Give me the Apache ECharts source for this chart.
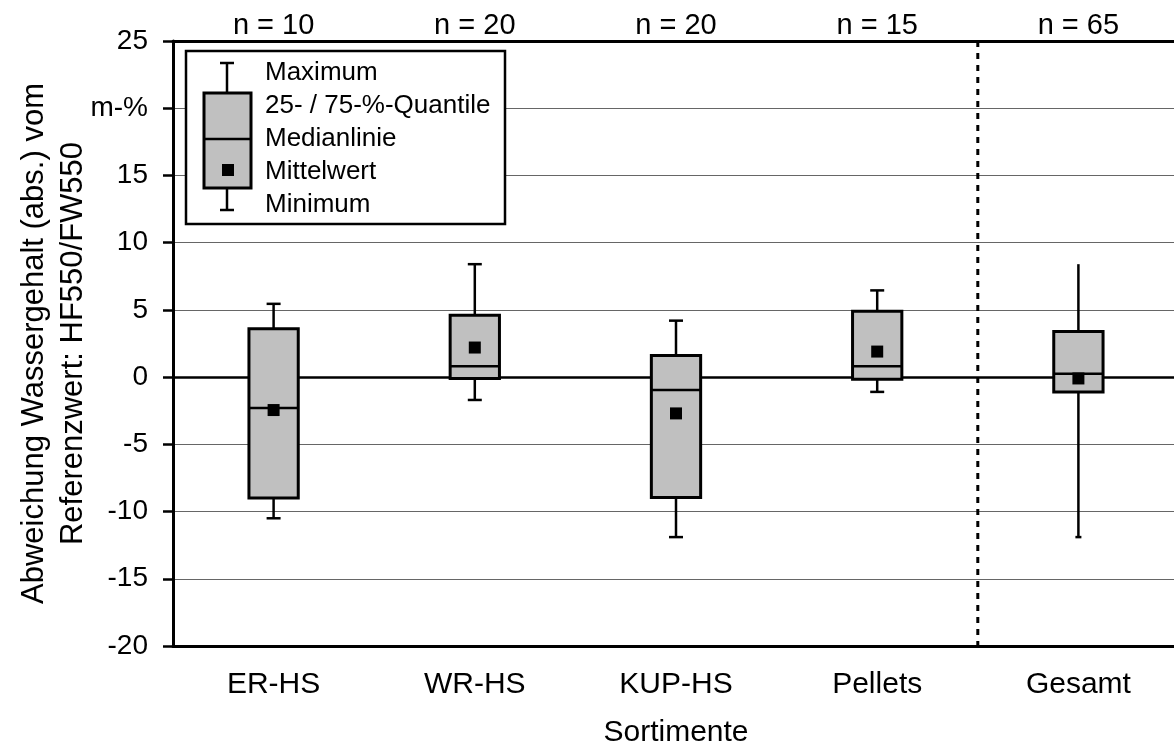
<!DOCTYPE html>
<html>
<head>
<meta charset="utf-8">
<script src="https://cdn.jsdelivr.net/npm/echarts@6/dist/echarts.min.js"></script>
<style>html,body{margin:0;padding:0;background:#fff}#c{width:1174px;height:745px}</style>
</head>
<body>
<div id="c"></div>
<script>
const categories = ['ER-HS', 'WR-HS', 'KUP-HS', 'Pellets', 'Gesamt'];
const nLabels = ['n = 10', 'n = 20', 'n = 20', 'n = 15', 'n = 65'];
const minimum = [-10.5, -1.7, -11.9, -1.1, -11.9];
const q1 = [-9.0, -0.1, -8.95, -0.15, -1.1];
const median = [-2.3, 0.8, -0.95, 0.8, 0.25];
const q3 = [3.6, 4.6, 1.6, 4.9, 3.4];
const maximum = [5.45, 8.4, 4.2, 6.45, 8.4];
const mean = [-2.45, 2.2, -2.7, 1.9, -0.1];
const separatorAfter = 3; // dashed line between 'Pellets' and 'Gesamt'

const FONT = 'Liberation Sans, Arial, sans-serif';
const chart = echarts.init(document.getElementById('c'));

const boxData = categories.map((c, i) => [i, minimum[i], q1[i], median[i], q3[i], maximum[i], mean[i]]);

function renderBox(params, api) {
  const i = api.value(0);
  const band = api.size([1, 0])[0];
  const x = api.coord([i, 0])[0];
  const bw = band * 0.245;
  const yMin = api.coord([i, api.value(1)])[1];
  const yQ1 = api.coord([i, api.value(2)])[1];
  const yMed = api.coord([i, api.value(3)])[1];
  const yQ3 = api.coord([i, api.value(4)])[1];
  const yMax = api.coord([i, api.value(5)])[1];
  const yMean = api.coord([i, api.value(6)])[1];
  const capTop = i === 4 ? 0 : 7;
  const capBot = i === 4 ? 3 : 7;
  const ls = { stroke: '#000', lineWidth: 2.5 };
  const children = [
    { type: 'line', shape: { x1: x, y1: yQ3, x2: x, y2: yMax }, style: ls },
    { type: 'line', shape: { x1: x, y1: yQ1, x2: x, y2: yMin }, style: ls },
    { type: 'rect', shape: { x: x - bw / 2, y: yQ3, width: bw, height: yQ1 - yQ3 }, style: { fill: '#c0c0c0', stroke: '#000', lineWidth: 3 } },
    { type: 'line', shape: { x1: x - bw / 2, y1: yMed, x2: x + bw / 2, y2: yMed }, style: { stroke: '#000', lineWidth: 2.5 } },
    { type: 'rect', shape: { x: x - 6, y: yMean - 6, width: 12, height: 12 }, style: { fill: '#000' } }
  ];
  if (capTop) children.push({ type: 'line', shape: { x1: x - capTop, y1: yMax, x2: x + capTop, y2: yMax }, style: ls });
  if (capBot) children.push({ type: 'line', shape: { x1: x - capBot, y1: yMin, x2: x + capBot, y2: yMin }, style: ls });
  return { type: 'group', children };
}

function renderSep(params, api) {
  const i = api.value(0);
  const band = api.size([1, 0])[0];
  const x = api.coord([i, 0])[0] + band / 2;
  const cs = params.coordSys;
  return { type: 'line', shape: { x1: x, y1: cs.y, x2: x, y2: cs.y + cs.height }, style: { stroke: '#000', lineWidth: 3, lineDash: [6, 6] } };
}

// legend glyph
const lgx = 227;
const legendGraphic = [
  { type: 'rect', shape: { x: 186, y: 51, width: 319, height: 173 }, style: { fill: '#fff', stroke: '#000', lineWidth: 2.5 }, z: 100 },
  { type: 'line', shape: { x1: lgx, y1: 63, x2: lgx, y2: 93 }, style: { stroke: '#000', lineWidth: 2.5 }, z: 101 },
  { type: 'line', shape: { x1: lgx - 7, y1: 63, x2: lgx + 7, y2: 63 }, style: { stroke: '#000', lineWidth: 2.5 }, z: 101 },
  { type: 'line', shape: { x1: lgx, y1: 188, x2: lgx, y2: 210 }, style: { stroke: '#000', lineWidth: 2.5 }, z: 101 },
  { type: 'line', shape: { x1: lgx - 7, y1: 210, x2: lgx + 7, y2: 210 }, style: { stroke: '#000', lineWidth: 2.5 }, z: 101 },
  { type: 'rect', shape: { x: 204, y: 93, width: 47, height: 95 }, style: { fill: '#c0c0c0', stroke: '#000', lineWidth: 3 }, z: 101 },
  { type: 'line', shape: { x1: 204, y1: 139, x2: 251, y2: 139 }, style: { stroke: '#000', lineWidth: 2.5 }, z: 102 },
  { type: 'rect', shape: { x: 222, y: 164, width: 12, height: 12 }, style: { fill: '#000' }, z: 102 }
];
const legendTexts = ['Maximum', '25- / 75-%-Quantile', 'Medianlinie', 'Mittelwert', 'Minimum'];
const legendY = [73, 106, 139, 172, 205];
legendTexts.forEach((t, k) => legendGraphic.push({
  type: 'text', x: 265, y: legendY[k], z: 103,
  style: { text: t, font: '26px ' + FONT, fill: '#000', textVerticalAlign: 'middle' }
}));

chart.setOption({
  animation: false,
  backgroundColor: '#fff',
  textStyle: { fontFamily: FONT },
  grid: { left: 173, right: -5, top: 41, bottom: 99, outerBoundsMode: 'none', containLabel: false },
  xAxis: [
    {
      type: 'category', data: categories, position: 'bottom',
      name: 'Sortimente', nameLocation: 'middle', nameGap: 72, nameMoveOverlap: false,
      nameTextStyle: { fontSize: 30, color: '#000', fontFamily: FONT },
      axisLine: { onZero: false, lineStyle: { color: '#000', width: 3 } },
      axisTick: { alignWithLabel: true, length: 11, lineStyle: { color: '#000', width: 3 } },
      axisLabel: { fontSize: 30, color: '#000', margin: 24, fontFamily: FONT },
      splitLine: { show: false }
    },
    {
      type: 'category', data: nLabels, position: 'top',
      axisLine: { onZero: false, lineStyle: { color: '#000', width: 3 } },
      axisTick: { show: false },
      axisLabel: { fontSize: 29, color: '#000', margin: 1, fontFamily: FONT },
      splitLine: { show: false }
    }
  ],
  yAxis: {
    type: 'value', min: -20, max: 25, interval: 5,
    name: 'Abweichung Wassergehalt (abs.) vom\nReferenzwert: HF550/FW550',
    nameLocation: 'middle', nameGap: 80, nameRotate: 90, nameMoveOverlap: false,
    nameTextStyle: { fontSize: 31, color: '#000', lineHeight: 39, fontFamily: FONT },
    axisLine: { show: true, lineStyle: { color: '#000', width: 3 } },
    axisTick: { show: true, length: 10, lineStyle: { color: '#000', width: 2.5 } },
    axisLabel: { fontSize: 28, color: '#000', margin: 25, fontFamily: FONT, formatter: v => (v === 20 ? 'm-%' : String(v)) },
    splitLine: { show: true, lineStyle: { color: '#666', width: 1 } }
  },
  graphic: legendGraphic,
  series: [
    {
      type: 'custom', renderItem: renderSep, data: [[separatorAfter]], z: 3, silent: true
    },
    {
      type: 'custom', renderItem: renderBox, data: boxData, z: 5,
      encode: { x: 0, y: [1, 2, 3, 4, 5, 6] },
      markLine: {
        silent: true, symbol: 'none', z: 4,
        label: { show: false },
        lineStyle: { color: '#000', width: 2.5, type: 'solid' },
        data: [{ yAxis: 0 }]
      }
    }
  ]
});
</script>
</body>
</html>
